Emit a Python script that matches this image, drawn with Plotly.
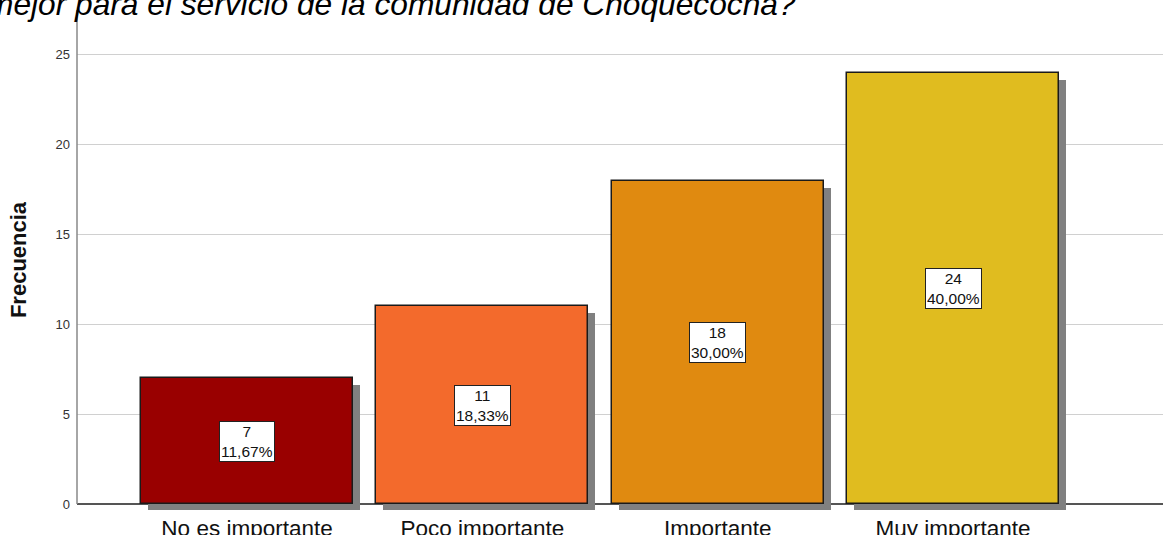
import plotly.graph_objects as go

categories = ["No es importante", "Poco importante", "Importante", "Muy importante"]
counts = [7, 11, 18, 24]
percents = ["11,67%", "18,33%", "30,00%", "40,00%"]
colors = ["#990000", "#F36A2C", "#E08A10", "#E0BC1F"]
y_ticks = [0, 5, 10, 15, 20, 25]
title_text = "mejor para el servicio de la comunidad de Choquecocha?"

W, H = 1166, 535
ml, mr, mt, mb = 77, 3, 10, 25
plot_w = W - ml - mr
plot_h = H - mt - mb

y_min, y_max = -0.33, 27.5
x_min, x_max = -0.7225, 3.892
px_per_y = plot_h / (y_max - y_min)
px_per_x = plot_w / (x_max - x_min)

shadow_dx = 7 / px_per_x
shadow_dy = 7 / px_per_y

xs = list(range(len(categories)))
fig = go.Figure()

# shadows
fig.add_trace(go.Bar(
    x=[i + shadow_dx for i in xs],
    y=[c - shadow_dy - y_min for c in counts],
    base=[y_min] * len(counts),
    width=0.9,
    marker=dict(color="#808080", line=dict(width=0)),
    hoverinfo="skip", showlegend=False,
))
# main bars
fig.add_trace(go.Bar(
    x=xs, y=counts, width=0.9,
    marker=dict(color=colors, line=dict(color="#1a1a1a", width=1.5)),
    showlegend=False,
))

for i, (c, p) in enumerate(zip(counts, percents)):
    fig.add_annotation(
        x=i, y=c / 2, xref="x", yref="y",
        text=f"{c}<br>{p}", showarrow=False,
        font=dict(family="Liberation Sans, Arial", size=15.5, color="#111"),
        bgcolor="white", bordercolor="#222", borderwidth=1, borderpad=1,
    )

# title (partially clipped)
fig.add_annotation(
    xref="paper", yref="paper",
    x=(-15 - ml) / plot_w, y=1 - (24 - mt) / plot_h,
    xanchor="left", yanchor="bottom",
    text=f"<i>{title_text}</i>", showarrow=False,
    font=dict(family="Liberation Sans, Arial", size=31.7, color="#000"),
)

# y axis line
fig.add_shape(type="line", xref="paper", yref="y", x0=0, x1=0, y0=0, y1=y_max,
              line=dict(color="#888", width=1.5))

fig.update_layout(
    width=W, height=H,
    margin=dict(l=ml, r=mr, t=mt, b=mb),
    paper_bgcolor="white", plot_bgcolor="white",
    barmode="overlay", bargap=0,
    font=dict(family="Liberation Sans, Arial", color="#222"),
    xaxis=dict(
        range=[x_min, x_max], tickmode="array", tickvals=xs, ticktext=categories,
        showgrid=False, showline=False, zeroline=False, ticks="",
        tickfont=dict(size=22.5, color="#111"), ticklabelstandoff=2,
        automargin=False,
    ),
    yaxis=dict(
        range=[y_min, y_max], tickmode="array", tickvals=y_ticks,
        showgrid=True, gridcolor="#d0d0d0", gridwidth=1.2,
        zeroline=True, zerolinecolor="#555", zerolinewidth=1.5,
        showline=False, ticks="", ticklabelstandoff=6,
        tickfont=dict(size=13, color="#333"),
        title=dict(text="<b>Frecuencia</b>", font=dict(size=22, color="#111"), standoff=22),
        automargin=False,
    ),
)

fig.write_html(
    "out.html",
    config={"displayModeBar": False},
    post_script="document.body.style.margin='0';document.body.style.overflow='hidden';",
)
